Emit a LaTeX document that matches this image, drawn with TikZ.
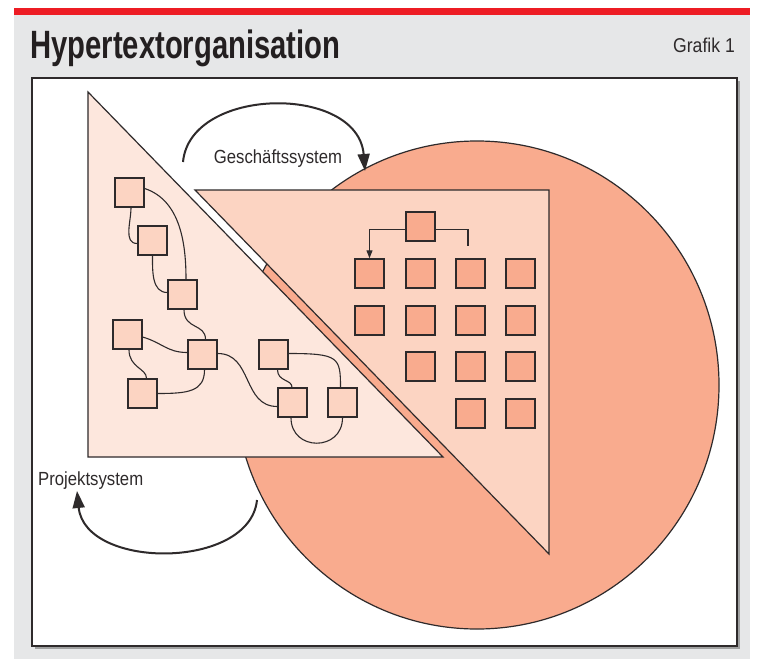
\documentclass[tikz,border=0pt]{standalone}
\usepackage{fontspec}
\setmainfont{Liberation Sans}
\newfontfamily\condfont{Liberation Sans}[FakeStretch=0.88]
\newfontfamily\titlefont{Liberation Sans}[FakeStretch=0.74]
\usetikzlibrary{arrows.meta,shadows}
\definecolor{redbar}{HTML}{ED1C24}
\definecolor{panelgray}{HTML}{E6E7E8}
\definecolor{lightpeach}{HTML}{FDE7DD}
\definecolor{midpeach}{HTML}{FCD4C2}
\definecolor{salmon}{HTML}{F9AB8E}
\definecolor{ink}{HTML}{2E2A2B}
\definecolor{titleink}{HTML}{231F20}
\begin{document}
\begin{tikzpicture}[x=1pt,y=-1pt,
  lbox/.style={draw=ink,line width=1.4pt,fill=midpeach,minimum size=29pt,inner sep=0pt},
  rbox/.style={draw=ink,line width=1.4pt,fill=salmon,minimum size=29pt,inner sep=0pt},
  link/.style={draw=ink,line width=1.1pt},
  shapeline/.style={draw=ink,line width=1.2pt},
  bigarrow/.style={draw=ink,line width=2pt,-{Triangle[length=17pt,width=12pt]}},
  lbl/.style={font=\condfont\fontsize{19}{22}\selectfont,text=ink,inner sep=0pt}
]
\useasboundingbox (0,0) rectangle (768,659);
\fill[white] (0,0) rectangle (768,659);
\fill[panelgray] (14,15) rectangle (750,659);
\fill[redbar] (14,8) rectangle (750,15);
\node[anchor=base west,inner sep=0pt,font=\titlefont\bfseries\fontsize{39.5}{42}\selectfont,text=titleink] (title) at (30,58) {Hypertextorganisation};
\node[anchor=base east,inner sep=0pt,font=\condfont\fontsize{20}{22}\selectfont,text=ink] (grafik) at (735,52) {Grafik 1};
\draw[draw=ink,line width=1.5pt,fill=white,drop shadow={shadow xshift=3pt,shadow yshift=-3pt,opacity=0.3,fill=black}] (32,78) rectangle (737,646);

% circle
\draw[shapeline,fill=salmon] (477,385) ellipse[x radius=242,y radius=244];
% right triangle
\draw[shapeline,fill=midpeach] (195,190) -- (549,190) -- (549,554) -- cycle;
% left triangle
\draw[shapeline,fill=lightpeach] (88,92) -- (88,457) -- (443,457) -- cycle;

% left boxes
\node[lbox] (A) at (129.5,192.5) {};
\node[lbox] (B) at (152.5,240.5) {};
\node[lbox] (C) at (182.5,294.5) {};
\node[lbox] (D) at (127.5,334.5) {};
\node[lbox] (E) at (202.5,354.5) {};
\node[lbox] (F) at (142.5,393.5) {};
\node[lbox] (G) at (273.5,354.5) {};
\node[lbox] (H) at (292.5,402.5) {};
\node[lbox] (I) at (342.5,402.5) {};

\draw[link] ([xshift=1.5pt]A.south) to[out=-90,in=180] ([yshift=-3pt]B.west);
\draw[link] ([yshift=4pt]A.east) .. controls +(36,12) and +(0,-35) .. ([xshift=3.5pt]C.north);
\draw[link] (B.south) to[out=-90,in=180] ([yshift=2pt]C.west);
\draw[link] ([xshift=1.5pt]C.south) .. controls +(0,20) and +(0,-16) .. ([xshift=3pt]E.north);
\draw[link] ([yshift=-2.5pt]D.east) .. controls +(20,6) and +(-20,0) .. ([yshift=2pt]E.west);
\draw[link] ([xshift=1.5pt]D.south) .. controls +(0,18) and +(0,-10) .. ([xshift=4pt]F.north);
\draw[link] ([xshift=2pt]E.south) .. controls +(0,22) and +(30,0) .. (F.east);
\draw[link] ([yshift=1pt]E.east) .. controls +(35,0) and +(-35,0) .. ([yshift=-4pt]H.west);
\draw[link] ([xshift=4pt]G.south) .. controls +(0,12) and +(0,-8) .. ([xshift=-0.5pt]H.north);
\draw[link] ([yshift=1pt]G.east) .. controls +(50,0) and +(0,-30) .. ([xshift=-2pt]I.north);
\draw[link] ([xshift=-1.5pt]H.south) .. controls +(0,34) and +(0,34) .. (I.south);

% right boxes
\node[rbox] (T) at (420.5,226.5) {};
\foreach \c/\x in {1/369.5,2/420.5,3/470.5,4/520.5}{
  \foreach \r/\y in {1/273.5,2/320.5}{
    \node[rbox] (R\r\c) at (\x,\y) {};
  }
}
\node[rbox] (R32) at (420.5,366.5) {};
\node[rbox] (R33) at (470.5,366.5) {};
\node[rbox] (R34) at (520.5,366.5) {};
\node[rbox] (R43) at (470.5,413.5) {};
\node[rbox] (R44) at (520.5,413.5) {};
\coordinate (tr) at (468,246);
\draw[link,-{Triangle[length=8pt,width=6pt]}] ([yshift=-3pt]T.west) -| (R11.north);
\draw[link] ([yshift=-3pt]T.east) -| (tr);

% arrows and labels
\node[lbl,anchor=base] (gs) at (278,163) {Geschäftssystem};
\node[lbl,anchor=base west] (ps) at (38,485) {Projektsystem};
\coordinate (g0) at (183,162);
\coordinate (g1) at (365,171);
\draw[bigarrow] (g0) .. controls (190,86) and (358,84) .. (g1);
\coordinate (p0) at (257,500);
\coordinate (p1) at (77,491);
\draw[bigarrow] (p0) .. controls (250,570) and (85,570) .. (p1);
\end{tikzpicture}
\end{document}
